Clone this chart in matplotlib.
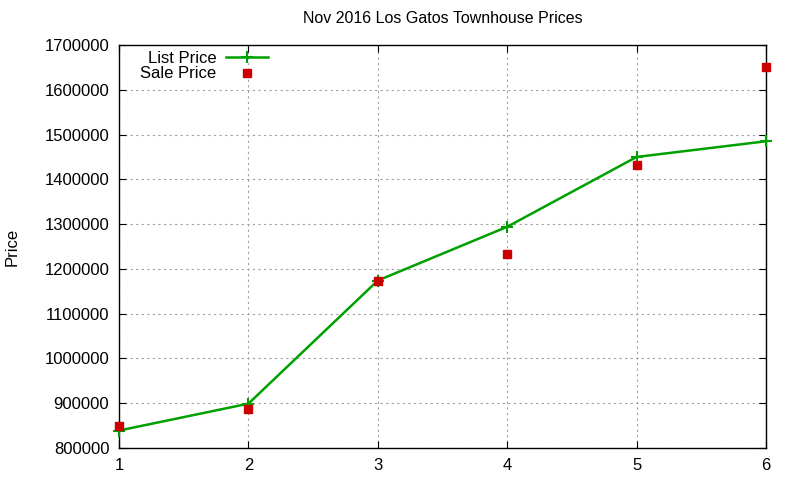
import matplotlib
matplotlib.use('Agg')
import matplotlib.pyplot as plt
from matplotlib.ticker import FormatStrFormatter

months = [1, 2, 3, 4, 5, 6]
list_price = [839000, 899000, 1174000, 1294000, 1450000, 1485000]
sale_price = [849000, 888000, 1174000, 1234000, 1432000, 1651000]

plt.rcParams['font.family'] = ['Liberation Sans', 'DejaVu Sans']
plt.rcParams['font.size'] = 12

fig = plt.figure(figsize=(8, 4.8), dpi=100)
ax = fig.add_axes([119/800, 1 - 448/480, (766-119)/800, (448-45)/480])

ax.plot(months, list_price, color='#00a000', lw=1.8, marker='+', ms=8, mew=1.5,
        label='List Price', clip_on=False, zorder=3)
ax.plot(months, sale_price, ls='none', marker='s', ms=6, color='#cc0000',
        label='Sale Price', clip_on=False, zorder=4)

ax.set_xlim(1, 6)
ax.set_ylim(800000, 1700000)
ax.set_yticks(range(800000, 1700001, 100000))
ax.yaxis.set_major_formatter(FormatStrFormatter('%d'))
ax.grid(True, ls=(0, (2, 3)), color='#a0a0a0', lw=0.8)
ax.tick_params(direction='in', top=True, right=True, length=5, labelsize=12)
ax.tick_params(axis='y', pad=7)
ax.tick_params(axis='x', pad=7)
for s in ax.spines.values():
    s.set_linewidth(1.0)

ax.set_title('Nov 2016 Los Gatos Townhouse Prices', fontsize=11.5, pad=16)
ax.set_ylabel('Price', fontsize=12)
ax.yaxis.set_label_coords(-(119 - 20) / 647, 0.5)

leg = ax.legend(loc='upper left', bbox_to_anchor=(0.015, 1.015), frameon=False,
                markerfirst=False, fontsize=12, handlelength=2.5, labelspacing=0.05,
                handletextpad=0.6, borderaxespad=0.3)
for t in leg.get_texts():
    t.set_ha('right')
leg._legend_box.align = 'right'

fig.savefig('out.png', dpi=100)
